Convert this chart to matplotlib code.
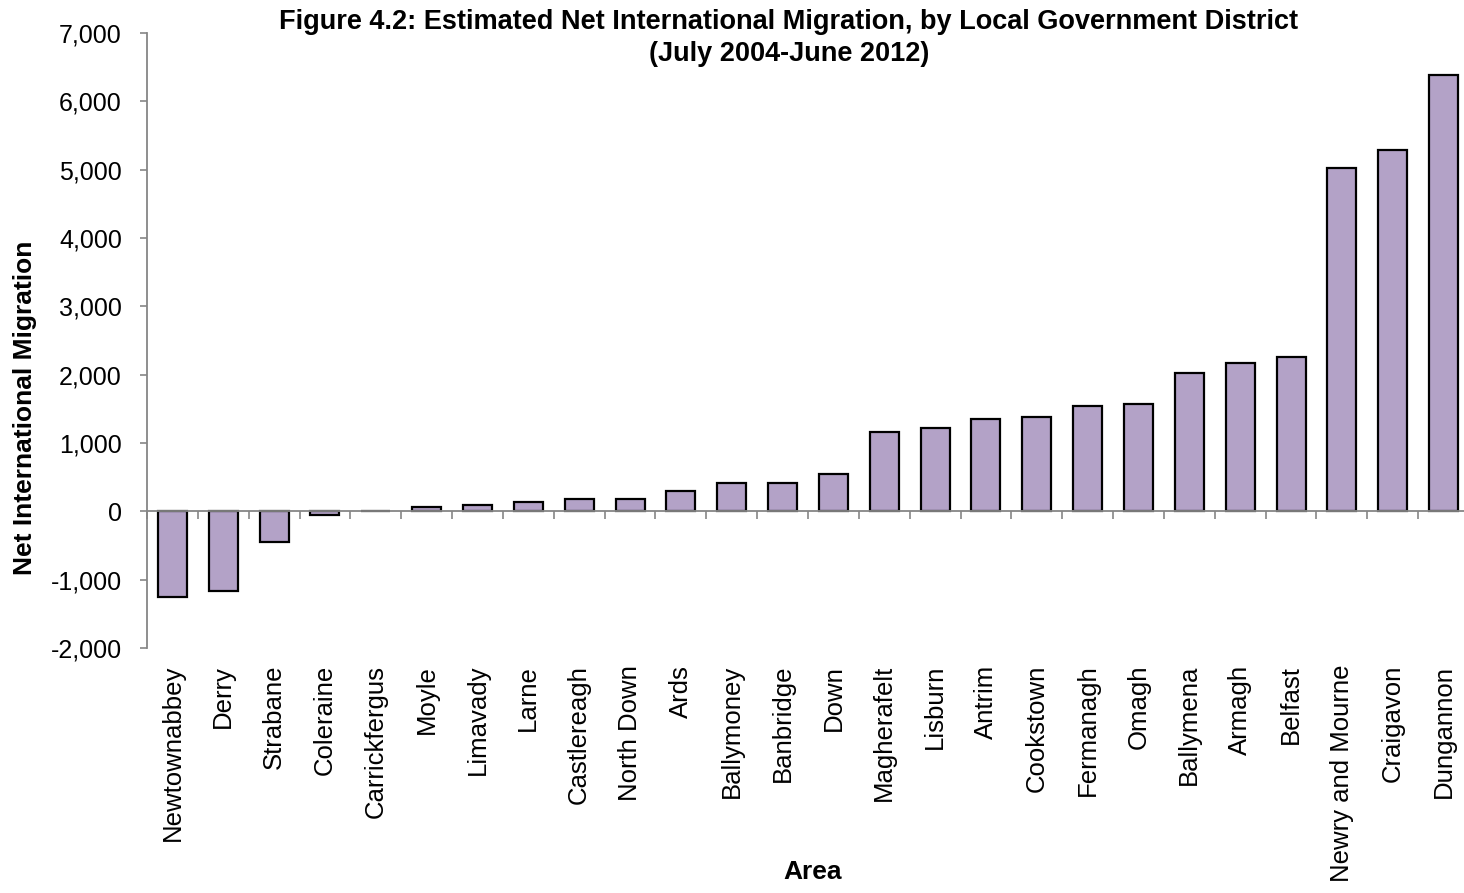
import matplotlib
matplotlib.use("Agg")
import matplotlib.pyplot as plt
import numpy as np

plt.rcParams["font.family"] = ["Liberation Sans", "DejaVu Sans"]

areas = ["Newtownabbey", "Derry", "Strabane", "Coleraine", "Carrickfergus",
         "Moyle", "Limavady", "Larne", "Castlereagh", "North Down", "Ards",
         "Ballymoney", "Banbridge", "Down", "Magherafelt", "Lisburn", "Antrim",
         "Cookstown", "Fermanagh", "Omagh", "Ballymena", "Armagh", "Belfast",
         "Newry and Mourne", "Craigavon", "Dungannon"]
net_migration = [-1250, -1170, -450, -55, 10, 60, 90, 138, 182, 182, 295,
                 410, 420, 550, 1156, 1220, 1350, 1380, 1537, 1570, 2030,
                 2175, 2255, 5020, 5290, 6380]
y_ticks = [-2000, -1000, 0, 1000, 2000, 3000, 4000, 5000, 6000, 7000]

W, H = 1464, 893
fig = plt.figure(figsize=(W / 100, H / 100), dpi=100)
left, right, top, bottom = 147, 1469, 33, 648
ax = fig.add_axes([left / W, 1 - bottom / H, (right - left) / W, (bottom - top) / H])

x = np.arange(len(areas))
ax.bar(x, net_migration, width=0.57, color="#B3A2C7", edgecolor="black",
       linewidth=1.6, zorder=3)

ax.set_xlim(-0.5, len(areas) - 0.5)
ax.set_ylim(-2000, 7000)
ax.set_yticks(y_ticks)
ax.set_yticklabels([f"{v:,}" for v in y_ticks], fontsize=18)
ax.tick_params(axis="y", direction="out", length=5, width=1.2,
               color="#868686", pad=13)

grey = "#868686"
for s in ["top", "right"]:
    ax.spines[s].set_visible(False)
ax.spines["left"].set_color(grey)
ax.spines["left"].set_linewidth(1.3)
ax.spines["bottom"].set_position(("data", 0))
ax.spines["bottom"].set_color(grey)
ax.spines["bottom"].set_linewidth(1.3)
ax.spines["bottom"].set_zorder(4)

# tick marks between categories on the zero line
ax.set_xticks(np.arange(-0.5, len(areas)), labels=[])
ax.tick_params(axis="x", direction="out", length=5.5, width=1.2, color=grey)

# category labels along the bottom of the plot
sec = ax.secondary_xaxis("bottom")
sec.set_xticks(x, labels=areas, rotation=90, fontsize=18.5)
sec.tick_params(length=0, pad=12)
sec.spines["bottom"].set_visible(False)

fig.text(789 / W, 1 - 38 / H,
         "Figure 4.2: Estimated Net International Migration, by Local Government District\n(July 2004-June 2012)",
         ha="center", va="center", fontsize=19.5, fontweight="bold", linespacing=1.32)
fig.text(813 / W, 1 - 872 / H, "Area", ha="center", va="center",
         fontsize=19, fontweight="bold")
fig.text(25 / W, 1 - 408 / H, "Net International Migration", ha="center",
         va="center", rotation=90, fontsize=19, fontweight="bold")

fig.savefig("out.png", dpi=100)
